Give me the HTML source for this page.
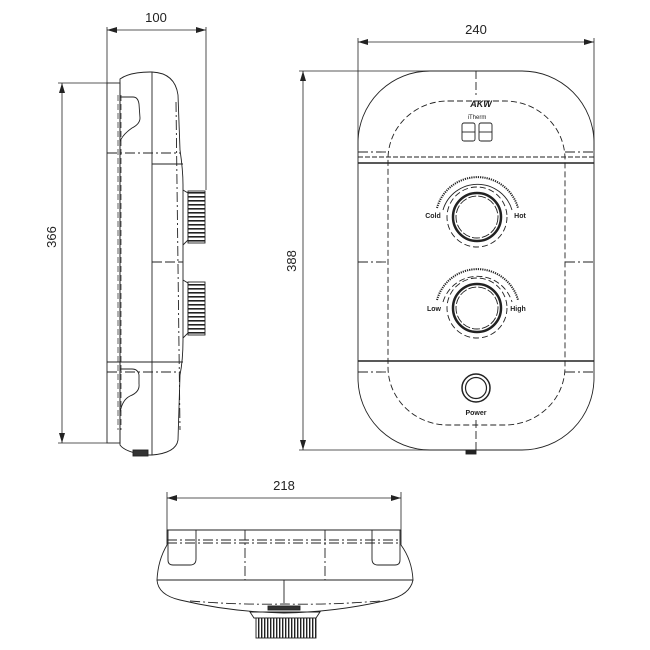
<!DOCTYPE html>
<html><head><meta charset="utf-8"><style>
html,body{margin:0;padding:0;background:#fff;width:650px;height:650px;overflow:hidden}
svg{display:block}
text{font-family:"Liberation Sans",sans-serif;fill:#222}
</style></head><body>
<svg width="650" height="650" viewBox="0 0 650 650" xmlns="http://www.w3.org/2000/svg">
<defs>
<marker id="ar" markerWidth="10" markerHeight="6" refX="10" refY="3" orient="auto-start-reverse" markerUnits="userSpaceOnUse">
<path d="M0,0 L10,3 L0,6 Z" fill="#222"/></marker>
<pattern id="hatchV" width="3" height="4" patternUnits="userSpaceOnUse"><rect width="3" height="4" fill="#fff"/><rect width="3" height="1.6" fill="#222"/></pattern>
<pattern id="hatchH" width="3" height="4" patternUnits="userSpaceOnUse"><rect width="3" height="4" fill="#fff"/><rect width="1.4" height="4" fill="#222"/></pattern>
</defs>
<g fill="none" stroke="#222" stroke-width="0.9">
<!-- ===== SIDE VIEW ===== -->
<line x1="107" y1="27" x2="107" y2="83" stroke-width="0.8"/>
<line x1="206" y1="27" x2="206" y2="190" stroke-width="0.8"/>
<line x1="107" y1="30" x2="206" y2="30" marker-start="url(#ar)" marker-end="url(#ar)" stroke-width="0.8"/>
<line x1="58" y1="83" x2="107" y2="83" stroke-width="0.8"/>
<line x1="58" y1="443" x2="107" y2="443" stroke-width="0.8"/>
<line x1="62" y1="83" x2="62" y2="443" marker-start="url(#ar)" marker-end="url(#ar)" stroke-width="0.8"/>
<rect x="107" y="83" width="13" height="360"/>
<line x1="118" y1="95" x2="118" y2="430" stroke-dasharray="6,3" stroke-width="0.7"/>
<line x1="121" y1="95" x2="121" y2="430" stroke-dasharray="6,3" stroke-width="0.7"/>
<path d="M120,83 L120,79 Q130,72 150,72 L152,72 Q175,73 178,95 L180,150 Q183,170 183,185 L183,340 Q183,360 180,375 L178,440 Q176,453 152,455 L145,455 Q125,452 120,445 Z"/>
<line x1="152" y1="72" x2="152" y2="455"/>
<line x1="107" y1="153" x2="180" y2="153" stroke-dasharray="10,3,2,3"/>
<line x1="152" y1="164" x2="183" y2="164"/>
<line x1="107" y1="362" x2="183" y2="362"/>
<line x1="107" y1="372" x2="180" y2="372" stroke-dasharray="10,3,2,3"/>
<line x1="152" y1="262" x2="183" y2="262" stroke-dasharray="10,3"/>
<line x1="176" y1="102" x2="180" y2="430" stroke-dasharray="10,3,2,3"/>
<path d="M120,97 L133,97 Q138,97 139,104 L140,118 Q140,124 132,128 Q122,135 120,142"/>
<path d="M120,413 Q122,400 130,396 Q140,392 139,384 L139,375 Q138,369 132,369 L120,369"/>
<path d="M183,190 L188,193 L188,240 L183,245"/>
<rect x="188" y="191" width="17" height="52" fill="url(#hatchV)"/>
<path d="M183,280 L188,283 L188,333 L183,338"/>
<rect x="188" y="282" width="17" height="53" fill="url(#hatchV)"/>
<rect x="133" y="450" width="15" height="6" fill="#333"/>

<!-- ===== FRONT VIEW ===== -->
<line x1="358" y1="38" x2="358" y2="150" stroke-width="0.8"/>
<line x1="594" y1="38" x2="594" y2="150" stroke-width="0.8"/>
<line x1="358" y1="42" x2="594" y2="42" marker-start="url(#ar)" marker-end="url(#ar)" stroke-width="0.8"/>
<line x1="299" y1="71" x2="470" y2="71" stroke-width="0.8"/>
<line x1="299" y1="450" x2="470" y2="450" stroke-width="0.8"/>
<line x1="303" y1="71" x2="303" y2="450" marker-start="url(#ar)" marker-end="url(#ar)" stroke-width="0.8"/>
<rect x="358" y="71" width="236" height="379" rx="72" ry="72"/>
<rect x="388" y="101" width="177" height="324" rx="60" ry="58" stroke-dasharray="6,3"/>
<line x1="358" y1="163" x2="594" y2="163" stroke-width="1.4"/>
<line x1="358" y1="157" x2="594" y2="157" stroke-dasharray="5,2"/>
<line x1="358" y1="361" x2="594" y2="361" stroke-width="1.4"/>
<line x1="358" y1="152" x2="388" y2="152" stroke-dasharray="10,3,2,3"/>
<line x1="565" y1="152" x2="594" y2="152" stroke-dasharray="10,3,2,3"/>
<line x1="358" y1="262" x2="388" y2="262" stroke-dasharray="10,3,2,3"/>
<line x1="565" y1="262" x2="594" y2="262" stroke-dasharray="10,3,2,3"/>
<line x1="358" y1="372" x2="388" y2="372" stroke-dasharray="10,3,2,3"/>
<line x1="565" y1="372" x2="594" y2="372" stroke-dasharray="10,3,2,3"/>
<line x1="476" y1="71" x2="476" y2="95" stroke-dasharray="8,3"/>
<line x1="476" y1="420" x2="476" y2="450" stroke-dasharray="8,3"/>
<rect x="462" y="123" width="13" height="18" rx="2"/>
<line x1="462" y1="132" x2="475" y2="132"/>
<rect x="479" y="123" width="13" height="18" rx="2"/>
<line x1="479" y1="132" x2="492" y2="132"/>
<path d="M437,208 A42,42 0 0 1 518,208" stroke-width="2" stroke-dasharray="1.2,1"/>
<path d="M443,210 A36,36 0 0 1 512,210"/>
<circle cx="477" cy="217" r="30" stroke-dasharray="6,3"/>
<circle cx="477" cy="217" r="24" stroke-width="2.5"/>
<circle cx="477" cy="217" r="21" stroke-dasharray="8,2"/>
<path d="M437,300 A42,42 0 0 1 518,300" stroke-width="2" stroke-dasharray="1.2,1"/>
<path d="M443,302 A36,36 0 0 1 512,302" stroke-dasharray="6,3"/>
<circle cx="477" cy="308" r="30" stroke-dasharray="6,3"/>
<circle cx="477" cy="308" r="24" stroke-width="2.5"/>
<circle cx="477" cy="308" r="21" stroke-dasharray="8,2"/>
<circle cx="476" cy="388" r="14" stroke-width="1.5"/>
<circle cx="476" cy="388" r="10.5" stroke-width="1.2"/>
<rect x="466" y="450" width="10" height="4" fill="#222"/>

<!-- ===== BOTTOM VIEW ===== -->
<line x1="167" y1="492" x2="167" y2="530" stroke-width="0.8"/>
<line x1="401" y1="492" x2="401" y2="530" stroke-width="0.8"/>
<line x1="167" y1="498" x2="401" y2="498" marker-start="url(#ar)" marker-end="url(#ar)" stroke-width="0.8"/>
<line x1="167" y1="530" x2="401" y2="530"/>
<line x1="167" y1="540" x2="401" y2="540" stroke-dasharray="10,3,2,3"/>
<line x1="167" y1="543" x2="401" y2="543" stroke-dasharray="10,3,2,3"/>
<path d="M167,530 L167,545 Q158,560 157,580 L413,580 Q412,560 401,545 L401,530"/>
<path d="M157,580 Q158,595 180,600 Q230,612 284,613 Q338,612 388,600 Q410,595 413,580"/>
<path d="M190,601 Q240,605 284,604 Q330,605 380,601" stroke-dasharray="10,3,2,3"/>
<line x1="245" y1="530" x2="245" y2="580" stroke-dasharray="10,3,2,3"/>
<line x1="325" y1="530" x2="325" y2="580" stroke-dasharray="10,3,2,3"/>
<line x1="284" y1="580" x2="284" y2="603"/>
<path d="M168,530 L168,560 Q168,565 173,565 L190,565 Q196,565 196,559 L196,530"/>
<path d="M372,530 L372,559 Q372,565 378,565 L395,565 Q400,565 400,560 L400,530"/>
<rect x="268" y="606" width="32" height="4" fill="#333"/>
<path d="M250,612 L320,612 L316,618 L254,618 Z"/>
<rect x="256" y="618" width="60" height="20" fill="url(#hatchH)"/>
</g>
<g stroke="none">
<text x="156" y="22" font-size="13" text-anchor="middle">100</text>
<text x="0" y="0" font-size="13" text-anchor="middle" transform="translate(56,237) rotate(-90)">366</text>
<text x="476" y="34" font-size="13" text-anchor="middle">240</text>
<text x="0" y="0" font-size="13" text-anchor="middle" transform="translate(296,261) rotate(-90)">388</text>
<text x="284" y="490" font-size="13" text-anchor="middle">218</text>
<text x="481" y="107" font-size="9" font-style="italic" font-weight="bold" text-anchor="middle">AKW</text>
<text x="477" y="119" font-size="6" text-anchor="middle">iTherm</text>
<text x="433" y="218" font-size="7" font-weight="bold" text-anchor="middle">Cold</text>
<text x="520" y="218" font-size="7" font-weight="bold" text-anchor="middle">Hot</text>
<text x="434" y="311" font-size="7" font-weight="bold" text-anchor="middle">Low</text>
<text x="518" y="311" font-size="7" font-weight="bold" text-anchor="middle">High</text>
<text x="476" y="415" font-size="7" font-weight="bold" text-anchor="middle">Power</text>
</g>
</svg>
</body></html>
